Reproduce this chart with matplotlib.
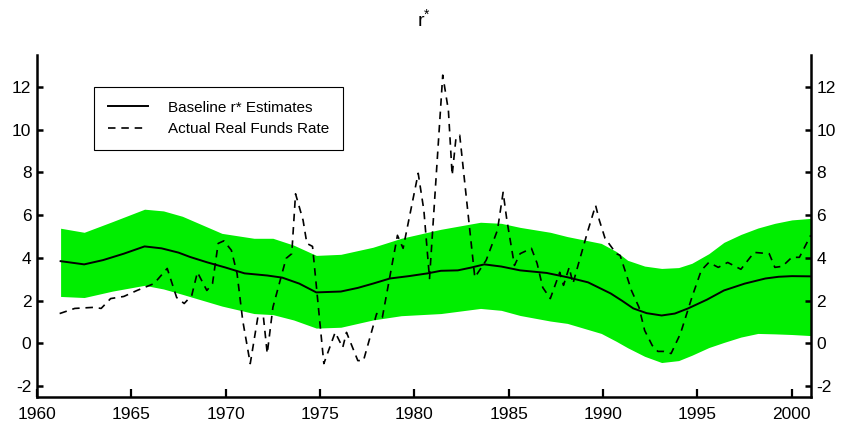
import matplotlib
matplotlib.use('Agg')
import matplotlib.pyplot as plt
import numpy as np

plt.rcParams['font.family'] = ['Liberation Sans', 'DejaVu Sans']
plt.rcParams['axes.unicode_minus'] = False

# baseline r* estimate and its confidence band
base_years = [1961.25, 1962.5, 1963.5, 1964.6, 1965.7, 1966.6, 1967.5, 1968.1, 1969.0,
              1970.0, 1971.0, 1972.2, 1973.0, 1973.9, 1974.8, 1976.1, 1977.0, 1977.8,
              1978.7, 1979.7, 1980.7, 1981.4, 1982.3, 1983.0, 1983.7, 1984.6, 1985.6,
              1987.0, 1988.1, 1989.2, 1990.4, 1991.0, 1991.6, 1992.3, 1993.1, 1993.8,
              1994.5, 1995.5, 1996.4, 1997.5, 1998.6, 1999.3, 2000.0, 2001.0]
base_values = [3.85, 3.7, 3.9, 4.2, 4.54, 4.45, 4.25, 4.05, 3.8,
               3.55, 3.28, 3.18, 3.08, 2.8, 2.39, 2.43, 2.6, 2.8,
               3.04, 3.15, 3.28, 3.4, 3.42, 3.55, 3.7, 3.6, 3.42,
               3.3, 3.1, 2.86, 2.34, 2.0, 1.64, 1.42, 1.31, 1.4,
               1.64, 2.05, 2.48, 2.8, 3.04, 3.12, 3.15, 3.14]

band_years = [1961.25, 1962.5, 1964.0, 1965.7, 1966.7, 1967.7, 1969.8, 1971.5, 1972.5,
              1973.6, 1974.8, 1976.1, 1977.8, 1979.3, 1981.4, 1983.5, 1984.6, 1985.6,
              1987.2, 1988.1, 1989.9, 1990.7, 1991.3, 1992.2, 1993.1, 1994.0, 1994.7,
              1995.6, 1996.4, 1997.3, 1998.2, 1999.1, 2000.0, 2001.0]
band_upper = [5.39, 5.2, 5.7, 6.28, 6.2, 5.95, 5.15, 4.92, 4.92,
              4.6, 4.12, 4.17, 4.5, 4.92, 5.34, 5.67, 5.62, 5.43,
              5.2, 5.0, 4.68, 4.3, 3.89, 3.62, 3.51, 3.55, 3.75,
              4.2, 4.73, 5.1, 5.4, 5.62, 5.78, 5.85]
band_lower = [2.2, 2.15, 2.45, 2.72, 2.55, 2.3, 1.75, 1.4, 1.35,
              1.1, 0.72, 0.76, 1.1, 1.3, 1.4, 1.64, 1.55, 1.31,
              1.05, 0.94, 0.47, 0.1, -0.2, -0.6, -0.89, -0.8, -0.55,
              -0.19, 0.05, 0.3, 0.47, 0.45, 0.42, 0.37]

# actual real federal funds rate
rate_years = [1961.2, 1962.0, 1963.0, 1963.4, 1963.9, 1964.6, 1965.3, 1966.2, 1966.9,
              1967.4, 1967.8, 1968.2, 1968.5, 1969.0, 1969.3, 1969.6, 1969.9, 1970.3,
              1970.6, 1970.9, 1971.3, 1971.7, 1972.0, 1972.2, 1972.5, 1973.2,
              1973.5, 1973.7, 1974.1, 1974.3, 1974.6, 1975.2, 1975.8, 1976.2, 1976.4,
              1977.0, 1977.3, 1978.0, 1978.3, 1979.1, 1979.4, 1980.2, 1980.5, 1980.8,
              1981.5, 1981.8, 1982.0, 1982.2, 1982.4, 1983.2, 1983.8, 1984.4, 1984.7,
              1984.9, 1985.3, 1985.6, 1986.2, 1986.5, 1986.8, 1987.2, 1987.7, 1987.9,
              1988.2, 1988.4, 1988.7, 1989.2, 1989.6, 1989.8, 1990.1, 1990.7, 1990.9,
              1991.5, 1991.9, 1992.2, 1992.6, 1992.9, 1993.2, 1993.6, 1994.1, 1994.7,
              1995.2, 1995.6, 1996.1, 1996.6, 1997.3, 1998.0, 1998.8, 1999.1, 1999.5,
              2000.0, 2000.4, 2001.0]
rate_values = [1.4, 1.64, 1.69, 1.64, 2.1, 2.2, 2.48, 2.8, 3.51,
               2.15, 1.87, 2.25, 3.33, 2.48, 2.8, 4.68, 4.8, 4.36,
               3.28, 1.08, -0.94, 1.22, 1.22, -0.47, 1.69, 3.98,
               4.2, 7.0, 5.76, 4.68, 4.54, -0.94, 0.52, -0.19, 0.52,
               -0.8, -0.8, 1.4, 1.22, 5.06, 4.45, 7.96, 6.23, 3.04,
               12.55, 10.9, 7.87, 9.6, 9.74, 3.09, 3.89, 5.3, 7.07,
               5.76, 3.65, 4.2, 4.45, 3.75, 2.62, 2.1, 3.33, 2.72,
               3.56, 2.8, 3.75, 5.3, 6.46, 5.76, 4.92, 4.2, 4.12,
               2.48, 1.69, 0.61, -0.09, -0.37, -0.37, -0.47, 0.47, 2.15,
               3.42, 3.79, 3.56, 3.79, 3.47, 4.26, 4.2, 3.56, 3.61,
               4.03, 4.03, 5.06]

fig = plt.figure(figsize=(8.41, 4.25), dpi=100)
ax = fig.add_axes([0.044, 0.066, 0.92, 0.805])

ax.fill_between(band_years, band_lower, band_upper, color='#00ee00', linewidth=0)
ax.plot(base_years, base_values, color='black', lw=1.4, label='Baseline r* Estimates')
ax.plot(rate_years, rate_values, color='black', lw=1.2, dashes=(4.5, 3.5),
        label='Actual Real Funds Rate')

ax.set_xlim(1960, 2001)
ax.set_ylim(-2.5, 13.5)
ax.set_xticks(np.arange(1960, 2001, 5))
ax.set_yticks(np.arange(-2, 13, 2))

ax.spines['top'].set_visible(False)
for s in ['left', 'right', 'bottom']:
    ax.spines[s].set_linewidth(1.8)
ax.tick_params(axis='y', direction='in', length=4, width=1.8, labelsize=12.5,
               left=True, right=True, labelleft=True, labelright=True, pad=4)
ax.tick_params(axis='x', direction='in', length=6, width=1.6, labelsize=12.5, pad=7)

ax.set_title(r'r$^{\mathregular{*}}$', fontsize=14, pad=20)

leg = ax.legend(loc='upper left', bbox_to_anchor=(0.074, 0.906), borderaxespad=0,
                fontsize=11, fancybox=False, framealpha=1, edgecolor='black',
                handlelength=2.6, handletextpad=1.3, borderpad=0.9, labelspacing=0.5)
leg.get_frame().set_linewidth(0.8)

fig.savefig('out.png', dpi=100)
